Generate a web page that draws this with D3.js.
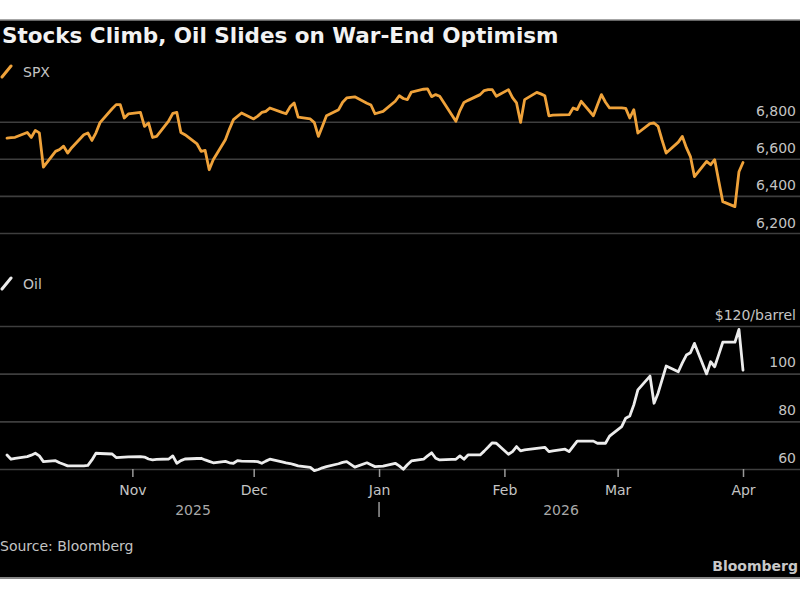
<!DOCTYPE html>
<html>
<head>
<meta charset="utf-8">
<script src="https://cdn.jsdelivr.net/npm/d3@7"></script>
<style>
  body { margin: 0; background: #fff; }
  text { font-family: "DejaVu Sans", sans-serif; }
</style>
</head>
<body>
<div id="chart"></div>
<script>
// S&P 500 close (date, index level)
const spxSeries = [
  ["2025-10-01", 6712], ["2025-10-02", 6714], ["2025-10-03", 6716], ["2025-10-06", 6742],
  ["2025-10-07", 6715], ["2025-10-08", 6753], ["2025-10-09", 6740], ["2025-10-10", 6555],
  ["2025-10-13", 6640], ["2025-10-14", 6650], ["2025-10-15", 6668], ["2025-10-16", 6631],
  ["2025-10-17", 6660], ["2025-10-20", 6730], ["2025-10-21", 6739], ["2025-10-22", 6699],
  ["2025-10-23", 6740], ["2025-10-24", 6795], ["2025-10-27", 6870], ["2025-10-28", 6892],
  ["2025-10-29", 6892], ["2025-10-30", 6820], ["2025-10-31", 6842], ["2025-11-03", 6850],
  ["2025-11-04", 6775], ["2025-11-05", 6793], ["2025-11-06", 6715], ["2025-11-07", 6721],
  ["2025-11-10", 6805], ["2025-11-11", 6845], ["2025-11-12", 6850], ["2025-11-13", 6742],
  ["2025-11-14", 6730], ["2025-11-17", 6680], ["2025-11-18", 6640], ["2025-11-19", 6645],
  ["2025-11-20", 6541], ["2025-11-21", 6595], ["2025-11-24", 6703], ["2025-11-25", 6760],
  ["2025-11-26", 6811], ["2025-11-28", 6847], ["2025-12-01", 6815], ["2025-12-02", 6830],
  ["2025-12-03", 6850], ["2025-12-04", 6856], ["2025-12-05", 6874], ["2025-12-08", 6850],
  ["2025-12-09", 6843], ["2025-12-10", 6880], ["2025-12-11", 6901], ["2025-12-12", 6825],
  ["2025-12-15", 6815], ["2025-12-16", 6795], ["2025-12-17", 6721], ["2025-12-18", 6775],
  ["2025-12-19", 6832], ["2025-12-22", 6865], ["2025-12-23", 6905], ["2025-12-24", 6928],
  ["2025-12-26", 6934], ["2025-12-29", 6900], ["2025-12-30", 6890], ["2025-12-31", 6843],
  ["2026-01-02", 6856], ["2026-01-05", 6910], ["2026-01-06", 6940], ["2026-01-07", 6925],
  ["2026-01-08", 6919], ["2026-01-09", 6960], ["2026-01-12", 6975], ["2026-01-13", 6977],
  ["2026-01-14", 6935], ["2026-01-15", 6946], ["2026-01-16", 6937], ["2026-01-20", 6802],
  ["2026-01-21", 6860], ["2026-01-22", 6904], ["2026-01-23", 6915], ["2026-01-26", 6946],
  ["2026-01-27", 6968], ["2026-01-28", 6973], ["2026-01-29", 6973], ["2026-01-30", 6937],
  ["2026-02-02", 6973], ["2026-02-03", 6930], ["2026-02-04", 6901], ["2026-02-05", 6796],
  ["2026-02-06", 6919], ["2026-02-09", 6958], ["2026-02-10", 6950], ["2026-02-11", 6940],
  ["2026-02-12", 6832], ["2026-02-13", 6835], ["2026-02-17", 6838], ["2026-02-18", 6874],
  ["2026-02-19", 6865], ["2026-02-20", 6910], ["2026-02-23", 6832], ["2026-02-24", 6890],
  ["2026-02-25", 6946], ["2026-02-26", 6905], ["2026-02-27", 6874], ["2026-03-02", 6874],
  ["2026-03-03", 6872], ["2026-03-04", 6820], ["2026-03-05", 6865], ["2026-03-06", 6739],
  ["2026-03-09", 6790], ["2026-03-10", 6793], ["2026-03-11", 6775], ["2026-03-12", 6700],
  ["2026-03-13", 6631], ["2026-03-16", 6690], ["2026-03-17", 6721], ["2026-03-18", 6660],
  ["2026-03-19", 6612], ["2026-03-20", 6504], ["2026-03-23", 6586], ["2026-03-24", 6568],
  ["2026-03-25", 6595], ["2026-03-26", 6480], ["2026-03-27", 6369], ["2026-03-30", 6342],
  ["2026-03-31", 6530], ["2026-04-01", 6580]
];

// Oil, $ per barrel
const oilSeries = [
  ["2025-10-01", 65.9], ["2025-10-02", 64.1], ["2025-10-03", 64.5], ["2025-10-06", 65.2],
  ["2025-10-07", 65.8], ["2025-10-08", 66.6], ["2025-10-09", 65.5], ["2025-10-10", 63.1],
  ["2025-10-13", 63.5], ["2025-10-14", 62.6], ["2025-10-15", 62.0], ["2025-10-16", 61.3],
  ["2025-10-17", 61.3], ["2025-10-20", 61.3], ["2025-10-21", 61.5], ["2025-10-22", 63.8],
  ["2025-10-23", 66.6], ["2025-10-24", 66.5], ["2025-10-27", 66.3], ["2025-10-28", 64.8],
  ["2025-10-29", 64.9], ["2025-10-30", 65.0], ["2025-10-31", 65.1], ["2025-11-03", 65.2],
  ["2025-11-04", 65.0], ["2025-11-05", 64.2], ["2025-11-06", 63.8], ["2025-11-07", 64.0],
  ["2025-11-10", 64.2], ["2025-11-11", 65.5], ["2025-11-12", 62.4], ["2025-11-13", 63.5],
  ["2025-11-14", 64.2], ["2025-11-17", 64.4], ["2025-11-18", 64.5], ["2025-11-19", 63.8],
  ["2025-11-20", 63.2], ["2025-11-21", 62.6], ["2025-11-24", 63.2], ["2025-11-25", 62.6],
  ["2025-11-26", 62.4], ["2025-11-27", 63.5], ["2025-11-28", 63.3], ["2025-12-01", 63.2],
  ["2025-12-02", 63.1], ["2025-12-03", 62.4], ["2025-12-04", 63.3], ["2025-12-05", 64.1],
  ["2025-12-08", 63.0], ["2025-12-09", 62.6], ["2025-12-10", 62.3], ["2025-12-11", 61.8],
  ["2025-12-12", 61.3], ["2025-12-15", 60.7], ["2025-12-16", 59.3], ["2025-12-17", 59.8],
  ["2025-12-18", 60.5], ["2025-12-19", 61.0], ["2025-12-22", 62.2], ["2025-12-23", 62.8],
  ["2025-12-24", 63.1], ["2025-12-26", 60.8], ["2025-12-29", 62.6], ["2025-12-30", 61.8],
  ["2025-12-31", 61.0], ["2026-01-02", 61.2], ["2026-01-05", 62.4], ["2026-01-06", 61.3],
  ["2026-01-07", 59.9], ["2026-01-08", 61.8], ["2026-01-09", 63.4], ["2026-01-12", 64.1],
  ["2026-01-13", 65.5], ["2026-01-14", 66.8], ["2026-01-15", 64.5], ["2026-01-16", 63.8],
  ["2026-01-19", 64.0], ["2026-01-20", 64.1], ["2026-01-21", 65.5], ["2026-01-22", 64.1],
  ["2026-01-23", 65.9], ["2026-01-26", 65.9], ["2026-01-27", 67.5], ["2026-01-28", 69.2],
  ["2026-01-29", 71.0], ["2026-01-30", 70.8], ["2026-02-02", 66.2], ["2026-02-03", 67.3],
  ["2026-02-04", 69.4], ["2026-02-05", 67.6], ["2026-02-06", 68.0], ["2026-02-09", 68.7],
  ["2026-02-10", 68.9], ["2026-02-11", 69.1], ["2026-02-12", 67.3], ["2026-02-13", 67.6],
  ["2026-02-16", 68.3], ["2026-02-17", 67.3], ["2026-02-18", 69.5], ["2026-02-19", 71.7],
  ["2026-02-20", 71.7], ["2026-02-23", 71.7], ["2026-02-24", 70.8], ["2026-02-25", 70.8],
  ["2026-02-26", 70.8], ["2026-02-27", 73.8], ["2026-03-02", 77.8], ["2026-03-03", 81.3],
  ["2026-03-04", 82.2], ["2026-03-05", 86.9], ["2026-03-06", 93.2], ["2026-03-09", 99.0],
  ["2026-03-10", 87.6], ["2026-03-11", 91.8], ["2026-03-12", 97.5], ["2026-03-13", 103.2],
  ["2026-03-16", 100.8], ["2026-03-17", 104.5], ["2026-03-18", 107.8], ["2026-03-19", 108.8],
  ["2026-03-20", 112.7], ["2026-03-23", 99.9], ["2026-03-24", 105.0], ["2026-03-25", 102.9],
  ["2026-03-26", 108.0], ["2026-03-27", 113.2], ["2026-03-30", 113.2], ["2026-03-31", 118.6],
  ["2026-04-01", 101.5]
];

const spxTicks = [6200, 6400, 6600, 6800];
const oilTicks = [60, 80, 100, 120];
const monthTicks = ["2025-11-01", "2025-12-01", "2026-01-01", "2026-02-01", "2026-03-01", "2026-04-01"];
const yearLabels = [
  { label: "2025", from: "2025-10-01", to: "2026-01-01" },
  { label: "2026", from: "2026-01-01", to: "2026-04-01" }
];
const dateRange = ["2025-10-01", "2026-04-01"];

const W = 800, H = 600;
const parse = d3.timeParse("%Y-%m-%d");
const spx = spxSeries.map(d => ({ date: parse(d[0]), value: d[1] }));
const oil = oilSeries.map(d => ({ date: parse(d[0]), value: d[1] }));

const svg = d3.select("#chart").append("svg")
  .attr("width", W)
  .attr("height", H);

svg.append("rect").attr("width", W).attr("height", H).attr("fill", "#fff");
svg.append("rect").attr("x", 0).attr("y", 20).attr("width", W).attr("height", 558).attr("fill", "#000");
svg.append("line").attr("x1", 0).attr("x2", W).attr("y1", 20).attr("y2", 20).attr("stroke", "#888").attr("stroke-width", 1.5);
svg.append("line").attr("x1", 0).attr("x2", W).attr("y1", 578).attr("y2", 578).attr("stroke", "#888").attr("stroke-width", 2);

let x = d3.scaleTime()
  .domain(dateRange.map(parse))
  .range([7, 743]);

let ySpx = d3.scaleLinear().domain([6200, 6800]).range([233, 121.7]);
let yOil = d3.scaleLinear().domain([60, 120]).range([469, 326]);

// title
svg.append("text")
  .attr("x", 2)
  .attr("y", 43)
  .attr("fill", "#f2f2f2")
  .attr("font-size", 21.5)
  .attr("font-weight", "bold")
  .text("Stocks Climb, Oil Slides on War-End Optimism");

// gridlines + right labels
function drawGrid(scale, ticks, fmt, dy) {
  let grid = svg.append("g")
    .attr("transform", `translate(${W},0)`)
    .call(d3.axisLeft(scale).tickValues(ticks).tickSize(W).tickFormat(""));
  grid.select(".domain").remove();
  grid.selectAll(".tick line").attr("stroke", "#3e3e3e").attr("stroke-width", 1.6);

  let labels = svg.append("g")
    .attr("transform", `translate(796,0)`)
    .call(d3.axisLeft(scale).tickValues(ticks).tickSize(0).tickPadding(0).tickFormat(fmt));
  labels.select(".domain").remove();
  labels.selectAll(".tick text")
    .attr("fill", "#c4c4c4")
    .attr("font-size", 14)
    .attr("font-family", "DejaVu Sans")
    .attr("dy", dy);
}

drawGrid(ySpx, spxTicks, d3.format(","), -6);
drawGrid(yOil, oilTicks, d => d === 120 ? "$120/barrel" : d, -7);

// x axis at oil baseline
let xAxis = svg.append("g")
  .attr("transform", `translate(0,${yOil(60)})`)
  .call(d3.axisBottom(x)
    .tickValues(monthTicks.map(parse))
    .tickSize(8)
    .tickPadding(8)
    .tickFormat(d3.timeFormat("%b")));
xAxis.select(".domain").remove();
xAxis.selectAll(".tick line").attr("stroke", "#9a9a9a").attr("stroke-width", 1.5);
xAxis.selectAll(".tick text")
  .attr("fill", "#c4c4c4")
  .attr("font-size", 14)
  .attr("font-family", "DejaVu Sans");

yearLabels.forEach(d => {
  let cx = (x(parse(d.from)) + x(parse(d.to))) / 2;
  svg.append("text")
    .attr("x", cx)
    .attr("y", 515)
    .attr("text-anchor", "middle")
    .attr("fill", "#a8a8a8")
    .attr("font-size", 14)
    .text(d.label);
});
// year divider
svg.append("line")
  .attr("x1", x(parse("2026-01-01"))).attr("x2", x(parse("2026-01-01")))
  .attr("y1", 502).attr("y2", 517)
  .attr("stroke", "#9a9a9a").attr("stroke-width", 1.5);

// lines
let lineSpx = d3.line().x(d => x(d.date)).y(d => ySpx(d.value));
let lineOil = d3.line().x(d => x(d.date)).y(d => yOil(d.value));

svg.append("path")
  .datum(spx)
  .attr("d", lineSpx)
  .attr("fill", "none")
  .attr("stroke", "#efa23a")
  .attr("stroke-width", 2.8)
  .attr("stroke-linejoin", "round")
  .attr("stroke-linecap", "round");

svg.append("path")
  .datum(oil)
  .attr("d", lineOil)
  .attr("fill", "none")
  .attr("stroke", "#ececec")
  .attr("stroke-width", 2.8)
  .attr("stroke-linejoin", "round")
  .attr("stroke-linecap", "round");

// legends
function legend(y, color, label) {
  svg.append("line")
    .attr("x1", 2).attr("y1", y + 5)
    .attr("x2", 11).attr("y2", y - 6)
    .attr("stroke", color).attr("stroke-width", 3).attr("stroke-linecap", "round");
  svg.append("text")
    .attr("x", 23).attr("y", y + 5)
    .attr("fill", "#c4c4c4")
    .attr("font-size", 14)
    .text(label);
}
legend(72, "#efa23a", "SPX");
legend(284, "#ececec", "Oil");

// footer
svg.append("text")
  .attr("x", 0).attr("y", 551)
  .attr("fill", "#c4c4c4")
  .attr("font-size", 14)
  .text("Source: Bloomberg");

svg.append("text")
  .attr("x", 798).attr("y", 571)
  .attr("text-anchor", "end")
  .attr("fill", "#c8c8c8")
  .attr("font-size", 14)
  .attr("font-weight", "bold")
  .text("Bloomberg");
</script>
</body>
</html>
